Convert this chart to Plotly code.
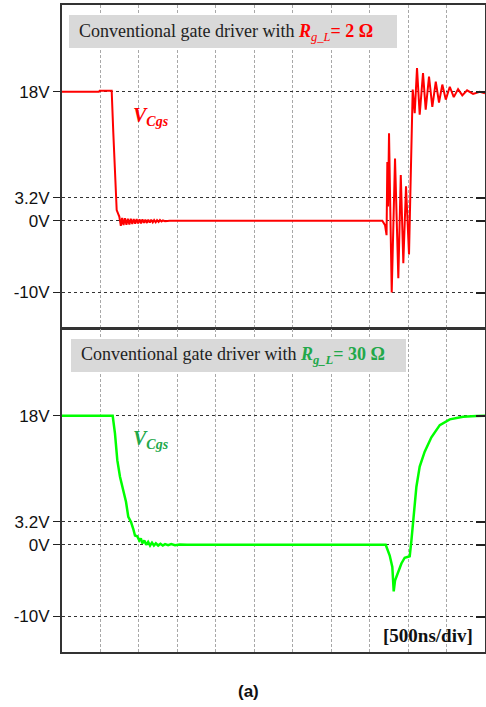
import plotly.graph_objects as go

# ---------------- data (time in ns, voltage in V) ----------------
red_t = [0, 480, 490, 646, 667, 689, 711, 745, 765, 782, 800, 818, 838, 856, 876, 894,
         914, 932, 952, 970, 990, 1008, 1028, 1046, 1066, 1084, 1104, 1122, 1142, 1160,
         1180, 1198, 1218, 1236, 1256, 1274, 1294, 1312, 1340, 1400,
         4165, 4200, 4220, 4230, 4239, 4252, 4287, 4330, 4373, 4405, 4438, 4473, 4512,
         4534, 4548, 4560, 4586, 4616, 4651, 4694, 4729, 4772, 4815, 4860, 4902, 4945,
         4990, 5042, 5094, 5150, 5205, 5267, 5345, 5432, 5500]
red_v = [18.0, 18.0, 18.15, 18.15, 12.3, 7.1, 1.5, 0.6, -0.7, 0.4, -0.6, 0.35, -0.55, 0.3,
         -0.5, 0.3, -0.45, 0.25, -0.4, 0.25, -0.35, 0.2, -0.35, 0.2, -0.3, 0.15, -0.3,
         0.15, -0.25, 0.15, -0.2, 0.1, -0.2, 0.1, -0.15, 0.1, -0.1, 0.05, -0.05, 0.0,
         0.0, -0.6, -2.0, 8.2, 2.0, 12.2, -10.0, 8.7, -8.0, 6.4, -5.9, 4.8, -4.7,
         6.0, 14.5, 18.3, 15.0, 21.3, 14.8, 20.6, 15.5, 20.1, 15.9, 19.4, 16.5, 19.0,
         16.9, 18.7, 17.25, 18.37, 17.5, 18.2, 17.7, 18.0, 17.8]

green_t = [0, 659, 689, 719, 754, 797, 832, 862, 897, 927, 949, 979, 1005, 1025, 1045,
           1070, 1095, 1120, 1145, 1170, 1195, 1220, 1250, 1280, 1310, 1340, 1380, 1420,
           1470, 1530, 1625, 4209, 4261, 4295, 4313, 4330, 4369, 4413, 4456, 4521, 4543,
           4573, 4608, 4651, 4716, 4803, 4912, 5042, 5215, 5388, 5500]
green_v = [18.0, 18.0, 15.5, 11.8, 9.5, 7.6, 6.0, 3.9, 3.2, 2.2, 1.3, 1.2, 0.6, 0.9, 0.2,
           0.6, 0.0, 0.4, -0.1, 0.3, -0.1, 0.2, -0.1, 0.15, -0.1, 0.1, -0.05, 0.1,
           -0.05, 0.05, 0.0, 0.0, -1.5, -3.1, -6.5, -5.0, -3.8, -2.6, -1.8, -1.6, 0.6,
           3.9, 8.1, 10.9, 13.0, 15.0, 16.7, 17.5, 17.85, 17.95, 18.0]

y_tickvals = [18, 3.2, 0, -10]
y_ticktext = ["18V", "3.2V", "0V", "-10V"]
x_range = [0, 5500]
y_range = [-14.95, 30.1]

W, H = 486, 707
RED = "#ff0000"
GREEN_LINE = "#00ff00"
GREEN_TEXT = "#22a84a"
SERIF = "Liberation Serif, Times New Roman, serif"
SANS = "Liberation Sans, Arial, sans-serif"


def px(x):
    return x / W


def py(y):
    return 1 - y / H


fig = go.Figure()
fig.add_trace(go.Scatter(x=red_t, y=red_v, mode="lines", xaxis="x", yaxis="y",
                         line=dict(color=RED, width=2), showlegend=False))
fig.add_trace(go.Scatter(x=green_t, y=green_v, mode="lines", xaxis="x2", yaxis="y2",
                         line=dict(color=GREEN_LINE, width=2.5), showlegend=False))

xdom = [px(62), px(485)]
top_dom = [py(328), py(5)]
bot_dom = [py(652), py(329)]

xcommon = dict(range=x_range, dtick=500, tick0=0, showticklabels=False, ticks="",
               showgrid=True, gridcolor="#a8a8a8", griddash="3px,2px", gridwidth=1,
               zeroline=False, showline=True, mirror=True, linecolor="#333",
               linewidth=2, domain=xdom, fixedrange=True)
ycommon = dict(range=y_range, tickmode="array", tickvals=y_tickvals, ticktext=y_ticktext,
               ticks="outside", ticklen=7, tickcolor="#222", tickwidth=1,
               tickfont=dict(family=SANS, size=17, color="#111"),
               showgrid=True, gridcolor="#333", griddash="3px,3px", gridwidth=1,
               zeroline=False, showline=True, mirror=True, linecolor="#333",
               linewidth=2, fixedrange=True)
yright = dict(range=y_range, tickmode="array", tickvals=y_tickvals, showticklabels=False,
              ticks="inside", ticklen=9, tickcolor="#222", tickwidth=1.5,
              showgrid=False, zeroline=False, showline=False, side="right",
              fixedrange=True)

fig.update_layout(
    width=W, height=H, autosize=False,
    margin=dict(l=0, r=0, t=0, b=0),
    paper_bgcolor="white", plot_bgcolor="white",
    xaxis=dict(**xcommon, anchor="y"),
    yaxis=dict(**ycommon, domain=top_dom, anchor="x"),
    xaxis2=dict(**xcommon, anchor="y2"),
    yaxis2=dict(**ycommon, domain=bot_dom, anchor="x2"),
    yaxis3=dict(**yright, overlaying="y", anchor="x"),
    yaxis4=dict(**yright, overlaying="y2", anchor="x2"),
)

# invisible helper traces so the right-side tick axes are drawn
fig.add_trace(go.Scatter(x=[None], y=[None], xaxis="x", yaxis="y3", showlegend=False,
                         hoverinfo="skip"))
fig.add_trace(go.Scatter(x=[None], y=[None], xaxis="x2", yaxis="y4", showlegend=False,
                         hoverinfo="skip"))

# grey title boxes
fig.add_shape(type="rect", xref="paper", yref="paper", x0=px(69), x1=px(397),
              y0=py(48), y1=py(15), fillcolor="#d9d9d9", line=dict(width=0),
              layer="above")
fig.add_shape(type="rect", xref="paper", yref="paper", x0=px(71), x1=px(406),
              y0=py(372), y1=py(339), fillcolor="#d9d9d9", line=dict(width=0),
              layer="above")

fig.add_annotation(xref="paper", yref="paper", x=px(77), y=py(32), xanchor="left",
                   yanchor="middle", showarrow=False,
                   text=("Conventional gate driver with "
                         f"<span style='color:{RED}'><b><i>R</i></b><sub><i>g_L</i></sub>"
                         "<b>= 2 Ω</b></span>"),
                   font=dict(family=SERIF, size=18, color="#222"))
fig.add_annotation(xref="paper", yref="paper", x=px(79), y=py(356), xanchor="left",
                   yanchor="middle", showarrow=False,
                   text=("Conventional gate driver with "
                         f"<span style='color:{GREEN_TEXT}'><b><i>R</i></b><sub><i><b>g_L</b></i></sub>"
                         "<b>= 30 Ω</b></span>"),
                   font=dict(family=SERIF, size=18, color="#222"))

# V_Cgs labels
fig.add_annotation(xref="paper", yref="paper", x=px(131), y=py(116), xanchor="left",
                   yanchor="middle", showarrow=False,
                   text="<b><i>V</i></b><sub><b><i>Cgs</i></b></sub>",
                   font=dict(family=SERIF, size=20, color=RED))
fig.add_annotation(xref="paper", yref="paper", x=px(131), y=py(440), xanchor="left",
                   yanchor="middle", showarrow=False,
                   text="<b><i>V</i></b><sub><b><i>Cgs</i></b></sub>",
                   font=dict(family=SERIF, size=20, color=GREEN_TEXT))

fig.add_annotation(xref="paper", yref="paper", x=px(475), y=py(635), xanchor="right",
                   yanchor="middle", showarrow=False, text="<b>[500ns/div]</b>",
                   font=dict(family=SERIF, size=19, color="#111"))
fig.add_annotation(xref="paper", yref="paper", x=px(248), y=py(691), xanchor="center",
                   yanchor="middle", showarrow=False, text="<b>(a)</b>",
                   font=dict(family=SANS, size=17, color="#111"))

fig.write_html("out.html")
